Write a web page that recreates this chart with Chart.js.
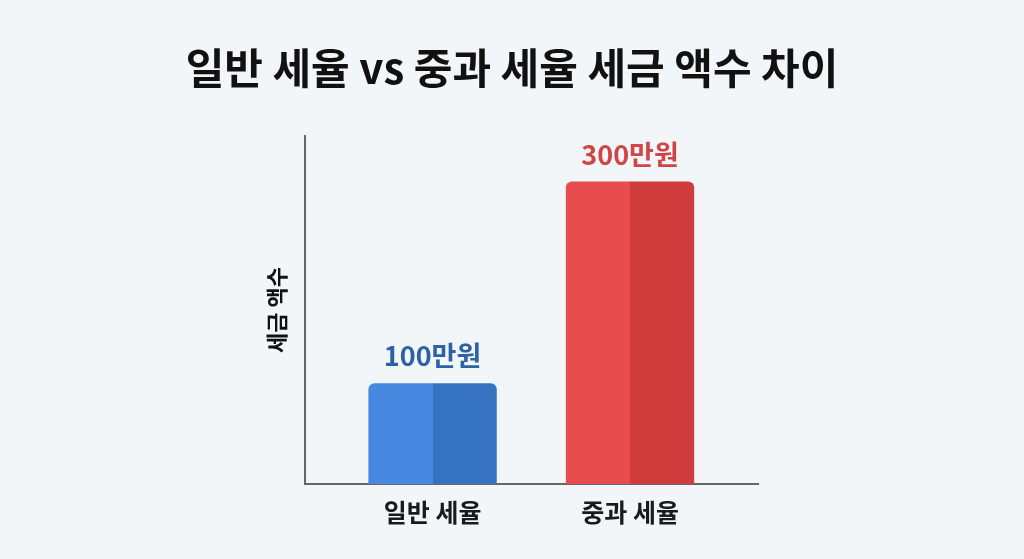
<!DOCTYPE html>
<html>
<head>
<meta charset="utf-8">
<script src="https://cdn.jsdelivr.net/npm/chart.js@4/dist/chart.umd.min.js"></script>
<style>
  html, body { margin: 0; padding: 0; background: #f2f6f8; }
  #wrap { width: 1024px; height: 559px; position: relative; }
</style>
</head>
<body>
<div id="wrap"><canvas id="c" width="1024" height="559"></canvas></div>
<script>
const categories = ['일반 세율', '중과 세율'];
const values = [100, 300];
const valueLabels = ['100만원', '300만원'];
const lightColors = ['#4789e0', '#e84c4c'];
const darkColors = ['#3572c2', '#cf3c3c'];
const labelColors = ['#2e62a6', '#d04646'];

const FONT = '"Noto Sans CJK KR", "Noto Sans", sans-serif';

function splitFill(ctx) {
  const i = ctx.dataIndex;
  if (i === undefined) return lightColors[0];
  const chart = ctx.chart;
  const xs = chart.scales && chart.scales.x;
  if (!xs || !chart.chartArea) return lightColors[i];
  const cx = xs.getPixelForValue(i);
  const g = chart.ctx.createLinearGradient(cx - 0.5, 0, cx + 0.5, 0);
  g.addColorStop(0, lightColors[i]);
  g.addColorStop(0.5, lightColors[i]);
  g.addColorStop(0.5, darkColors[i]);
  g.addColorStop(1, darkColors[i]);
  return g;
}

const valueLabelPlugin = {
  id: 'valueLabels',
  afterDatasetsDraw(chart) {
    const meta = chart.getDatasetMeta(0);
    const c = chart.ctx;
    c.save();
    c.font = 'bold 27px ' + FONT;
    c.textAlign = 'center';
    c.textBaseline = 'middle';
    meta.data.forEach((bar, i) => {
      c.fillStyle = labelColors[i];
      c.fillText(valueLabels[i], bar.x, bar.y - 27);
    });
    c.restore();
  }
};

new Chart(document.getElementById('c'), {
  type: 'bar',
  data: {
    datasets: [{
      data: values.map((v, i) => ({ x: i, y: v })),
      backgroundColor: splitFill,
      borderRadius: { topLeft: 6, topRight: 6, bottomLeft: 0, bottomRight: 0 },
      borderSkipped: 'bottom',
      categoryPercentage: 1,
      barPercentage: 0.65
    }]
  },
  options: {
    responsive: false,
    animation: false,
    devicePixelRatio: 1,
    layout: { padding: 0 },
    plugins: {
      legend: { display: false },
      tooltip: { enabled: false },
      title: {
        display: true,
        text: '일반 세율 vs 중과 세율 세금 액수 차이',
        color: '#111111',
        font: { family: FONT, size: 42, weight: 'bold', lineHeight: 1.2 },
        padding: { top: 43, bottom: 42.6 }
      }
    },
    scales: {
      x: {
        type: 'linear',
        offset: false,
        min: -0.646,
        max: 1.648,
        afterBuildTicks: (scale) => { scale.ticks = categories.map((c, i) => ({ value: i })); },
        afterFit: (scale) => { scale.height = 559 - 484; },
        ticks: {
          callback: (v) => categories[v],
          color: '#1a1a1a',
          font: { family: FONT, size: 25, weight: 'bold' },
          padding: 13,
          maxRotation: 0
        },
        grid: { display: false, drawTicks: false, offset: false },
        border: { display: true, color: '#666666', width: 2 }
      },
      y: {
        min: 0,
        max: 345,
        afterFit: (scale) => { scale.width = 305; },
        ticks: { display: false },
        grid: { display: false, drawTicks: false },
        border: { display: true, color: '#666666', width: 2 },
        title: {
          display: true,
          text: '세금 액수',
          color: '#111111',
          font: { family: FONT, size: 22, weight: 'bold', lineHeight: 1.2 },
          padding: { top: 263, bottom: 0 }
        }
      },
      yRight: {
        position: 'right',
        display: true,
        afterFit: (scale) => { scale.width = 1024 - 758; },
        ticks: { display: false },
        grid: { display: false, drawTicks: false },
        border: { display: false }
      }
    }
  },
  plugins: [valueLabelPlugin]
});
</script>
</body>
</html>
